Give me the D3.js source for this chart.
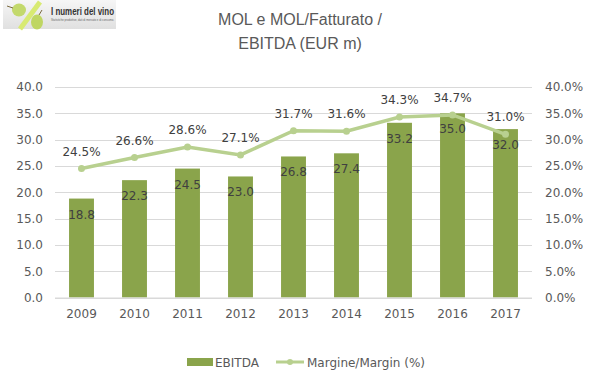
<!DOCTYPE html>
<html><head><meta charset="utf-8">
<script src="https://cdn.jsdelivr.net/npm/d3@7"></script>
<style>body{margin:0;background:#fff}svg{display:block}</style>
</head><body>
<script>
const years = ["2009","2010","2011","2012","2013","2014","2015","2016","2017"];
const ebitda = [18.8,22.3,24.5,23.0,26.8,27.4,33.2,35.0,32.0];
const margin = [24.5,26.6,28.6,27.1,31.7,31.6,34.3,34.7,31.0];
const leftTicks = [0,5,10,15,20,25,30,35,40];
const rightTicks = [0,5,10,15,20,25,30,35,40];
const titleLines = ["MOL e MOL/Fatturato /","EBITDA (EUR m)"];
const legendLabels = ["EBITDA","Margine/Margin (%)"];

const W=603,H=381;
const svg=d3.select("body").append("svg").attr("width",W).attr("height",H);
const font="'Liberation Sans', Arial, sans-serif";
const nfont="'DejaVu Sans', Verdana, sans-serif";
const barColor="#8aa44b", lineColor="#b8d08f", grid="#d9d9d9", txt="#595959", lbl="#404040";

const x=d3.scaleBand().domain(years).range([55,532]).paddingInner(0.53).paddingOuter(0.265);
const y=d3.scaleLinear().domain([0,40]).range([297.5,87]);
const y2=d3.scaleLinear().domain([0,40]).range([297.5,87]);

// logo
const defs=svg.append("defs");
const lg=defs.append("linearGradient").attr("id","lg").attr("x1",0).attr("x2",0).attr("y1",0).attr("y2",1);
lg.append("stop").attr("offset",0).attr("stop-color","#f6f6f6");
lg.append("stop").attr("offset",1).attr("stop-color","#e0e0e0");
svg.append("rect").attr("x",3).attr("y",0).attr("width",113).attr("height",29).attr("fill","url(#lg)");
svg.append("line").attr("x1",20).attr("y1",29).attr("x2",40).attr("y2",2).attr("stroke","#d8ea72").attr("stroke-width",5);
svg.append("ellipse").attr("cx",19).attr("cy",10).attr("rx",7).attr("ry",6.5).attr("fill","#c3d96c");
svg.append("ellipse").attr("cx",37).attr("cy",22).attr("rx",6).attr("ry",7.5).attr("fill","#bfd663");
svg.append("line").attr("x1",7).attr("y1",6).attr("x2",13).attr("y2",8).attr("stroke","#7a6a40").attr("stroke-width",1);
svg.append("line").attr("x1",39).attr("y1",15).attr("x2",42).attr("y2",10).attr("stroke","#7a6a40").attr("stroke-width",1);
svg.append("text").attr("x",51).attr("y",14.5).attr("font-family","'Liberation Sans Narrow', 'Liberation Sans', Arial, sans-serif")
  .attr("font-size",10.5).attr("font-weight","bold").attr("fill","#333").attr("textLength",63).attr("lengthAdjust","spacingAndGlyphs").text("I numeri del vino");
svg.append("text").attr("x",51).attr("y",20.5).attr("font-family",font).attr("font-size",3).attr("fill","#666")
  .attr("textLength",63).attr("lengthAdjust","spacingAndGlyphs").text("Statistiche produttive, dati di mercato e di consumo.");

// title
svg.selectAll("text.title").data(titleLines).enter().append("text").attr("class","title")
  .attr("x",300).attr("y",(d,i)=>25+i*24).attr("text-anchor","middle")
  .attr("font-family",font).attr("font-size",16).attr("fill",txt).text(d=>d);

// grid
svg.append("g").selectAll("line").data(leftTicks).enter().append("line")
  .attr("x1",55).attr("x2",532).attr("y1",d=>y(d)+0.5).attr("y2",d=>y(d)+0.5)
  .attr("stroke",grid).attr("stroke-width",1).attr("shape-rendering","crispEdges");

// axes
const la=svg.append("g").attr("transform","translate(55,0)")
  .call(d3.axisLeft(y).tickValues(leftTicks).tickFormat(d3.format(".1f")).tickSize(0).tickPadding(12));
const ra=svg.append("g").attr("transform","translate(532,0)")
  .call(d3.axisRight(y2).tickValues(rightTicks).tickFormat(d=>d3.format(".1f")(d)+"%").tickSize(0).tickPadding(13));
const ba=svg.append("g").attr("transform","translate(0,297.5)")
  .call(d3.axisBottom(x).tickSize(0).tickPadding(12));
[la,ra,ba].forEach(g=>{g.select(".domain").remove();
  g.selectAll("text").attr("font-family",nfont).attr("font-size",12).attr("fill",txt);});

// bars
svg.append("g").selectAll("rect").data(years).enter().append("rect")
  .attr("x",d=>x(d)).attr("width",x.bandwidth())
  .attr("y",(d,i)=>y(ebitda[i])).attr("height",(d,i)=>y(0)-y(ebitda[i])).attr("fill",barColor);

// line
const cx=d=>x(d)+x.bandwidth()/2;
svg.append("path").datum(years).attr("fill","none").attr("stroke",lineColor).attr("stroke-width",3.5)
  .attr("d",d3.line().x(cx).y((d,i)=>y2(margin[i])));
svg.append("g").selectAll("circle").data(years).enter().append("circle")
  .attr("cx",cx).attr("cy",(d,i)=>y2(margin[i])).attr("r",3.5).attr("fill",lineColor);

// bar labels
svg.append("g").selectAll("text").data(years).enter().append("text")
  .attr("x",cx).attr("y",(d,i)=>y(ebitda[i])+20).attr("text-anchor","middle")
  .attr("font-family",nfont).attr("font-size",12).attr("fill",lbl).text((d,i)=>d3.format(".1f")(ebitda[i]));
// margin labels
svg.append("g").selectAll("text").data(years).enter().append("text")
  .attr("x",cx).attr("y",(d,i)=>y2(margin[i])-13).attr("text-anchor","middle")
  .attr("font-family",nfont).attr("font-size",12).attr("fill",lbl).text((d,i)=>d3.format(".1f")(margin[i])+"%");

// axis baseline
svg.append("line").attr("x1",55).attr("x2",532).attr("y1",298).attr("y2",298).attr("stroke",grid);

// legend
const lgd=svg.append("g");
lgd.append("rect").attr("x",187).attr("y",358).attr("width",26).attr("height",8).attr("fill",barColor);
lgd.append("text").attr("x",215).attr("y",367).attr("font-family",nfont).attr("font-size",12).attr("fill",txt).text(legendLabels[0]);
lgd.append("line").attr("x1",276).attr("x2",304).attr("y1",362).attr("y2",362).attr("stroke",lineColor).attr("stroke-width",3);
lgd.append("circle").attr("cx",290).attr("cy",362).attr("r",3).attr("fill",lineColor);
lgd.append("text").attr("x",307).attr("y",367).attr("font-family",nfont).attr("font-size",12).attr("fill",txt).text(legendLabels[1]);
</script>
</body></html>
